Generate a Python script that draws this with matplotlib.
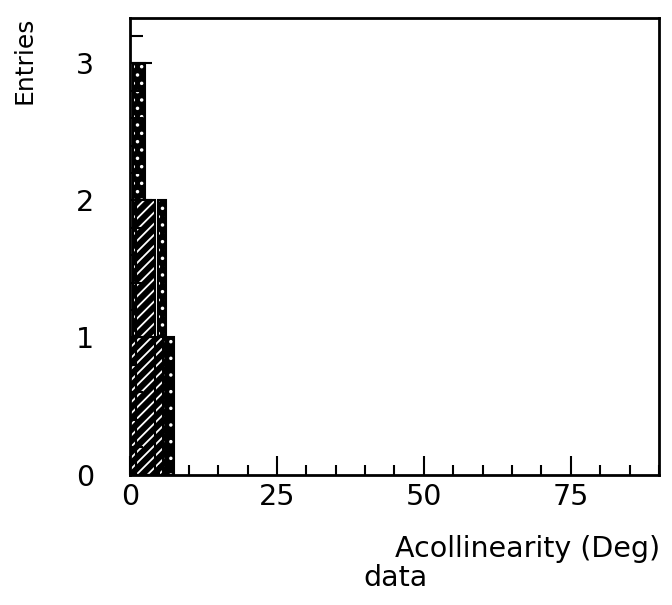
import matplotlib
matplotlib.use("Agg")
import matplotlib.pyplot as plt
from matplotlib.ticker import MultipleLocator

# hatched histogram (wide bars): left edge, width, entries
hatch_left = [1.0, 0.0]
hatch_width = [3.3, 5.65]
hatch_entries = [2, 1]

# dotted histogram (narrow bars)
dot_left = [0.5, 4.8, 6.4]
dot_width = [2.1, 1.3, 1.0]
dot_entries = [3, 2, 1]

xticks = [0, 25, 50, 75]
yticks = [0, 1, 2, 3]

plt.rcParams['hatch.linewidth'] = 1.3
fs = 20.5

fig = plt.figure(figsize=(6.72, 6.05), dpi=100)
ax = fig.add_axes([0.1935, 0.2157, 0.787, 0.7545])

# dotted bars first: black face with white dots, then black outline
ax.bar(dot_left, dot_entries, width=dot_width, align='edge',
       color='black', edgecolor='white', hatch='..', linewidth=0)
ax.bar(dot_left, dot_entries, width=dot_width, align='edge',
       fill=False, edgecolor='black', linewidth=1.5)

# hatched bars on top
ax.bar(hatch_left, hatch_entries, width=hatch_width, align='edge',
       color='black', edgecolor='white', hatch='///', linewidth=0)
ax.bar(hatch_left, hatch_entries, width=hatch_width, align='edge',
       fill=False, edgecolor='black', linewidth=1.5)

ax.set_xlim(0, 90)
ax.set_ylim(0, 3.33)
ax.set_xticks(xticks)
ax.set_yticks(yticks)
ax.xaxis.set_minor_locator(MultipleLocator(5))
ax.yaxis.set_minor_locator(MultipleLocator(0.2))
ax.tick_params(which='major', direction='in', length=14, width=1.5,
               labelsize=fs, top=False, right=False)
ax.tick_params(which='minor', direction='in', length=7, width=1.5,
               top=False, right=False)
ax.tick_params(axis='x', which='major', pad=6)
ax.tick_params(axis='y', which='major', pad=26, length=16)
ax.tick_params(axis='y', which='minor', length=9)
for s in ax.spines.values():
    s.set_linewidth(2)

fig.text(0.982, 0.093, 'Acollinearity (Deg)', ha='right', va='center', fontsize=fs)
fig.text(0.588, 0.044, 'data', ha='center', va='center', fontsize=fs)
fig.text(0.036, 0.972, 'Entries', ha='center', va='top', rotation=90, fontsize=18)

fig.savefig("out.png", dpi=100)
